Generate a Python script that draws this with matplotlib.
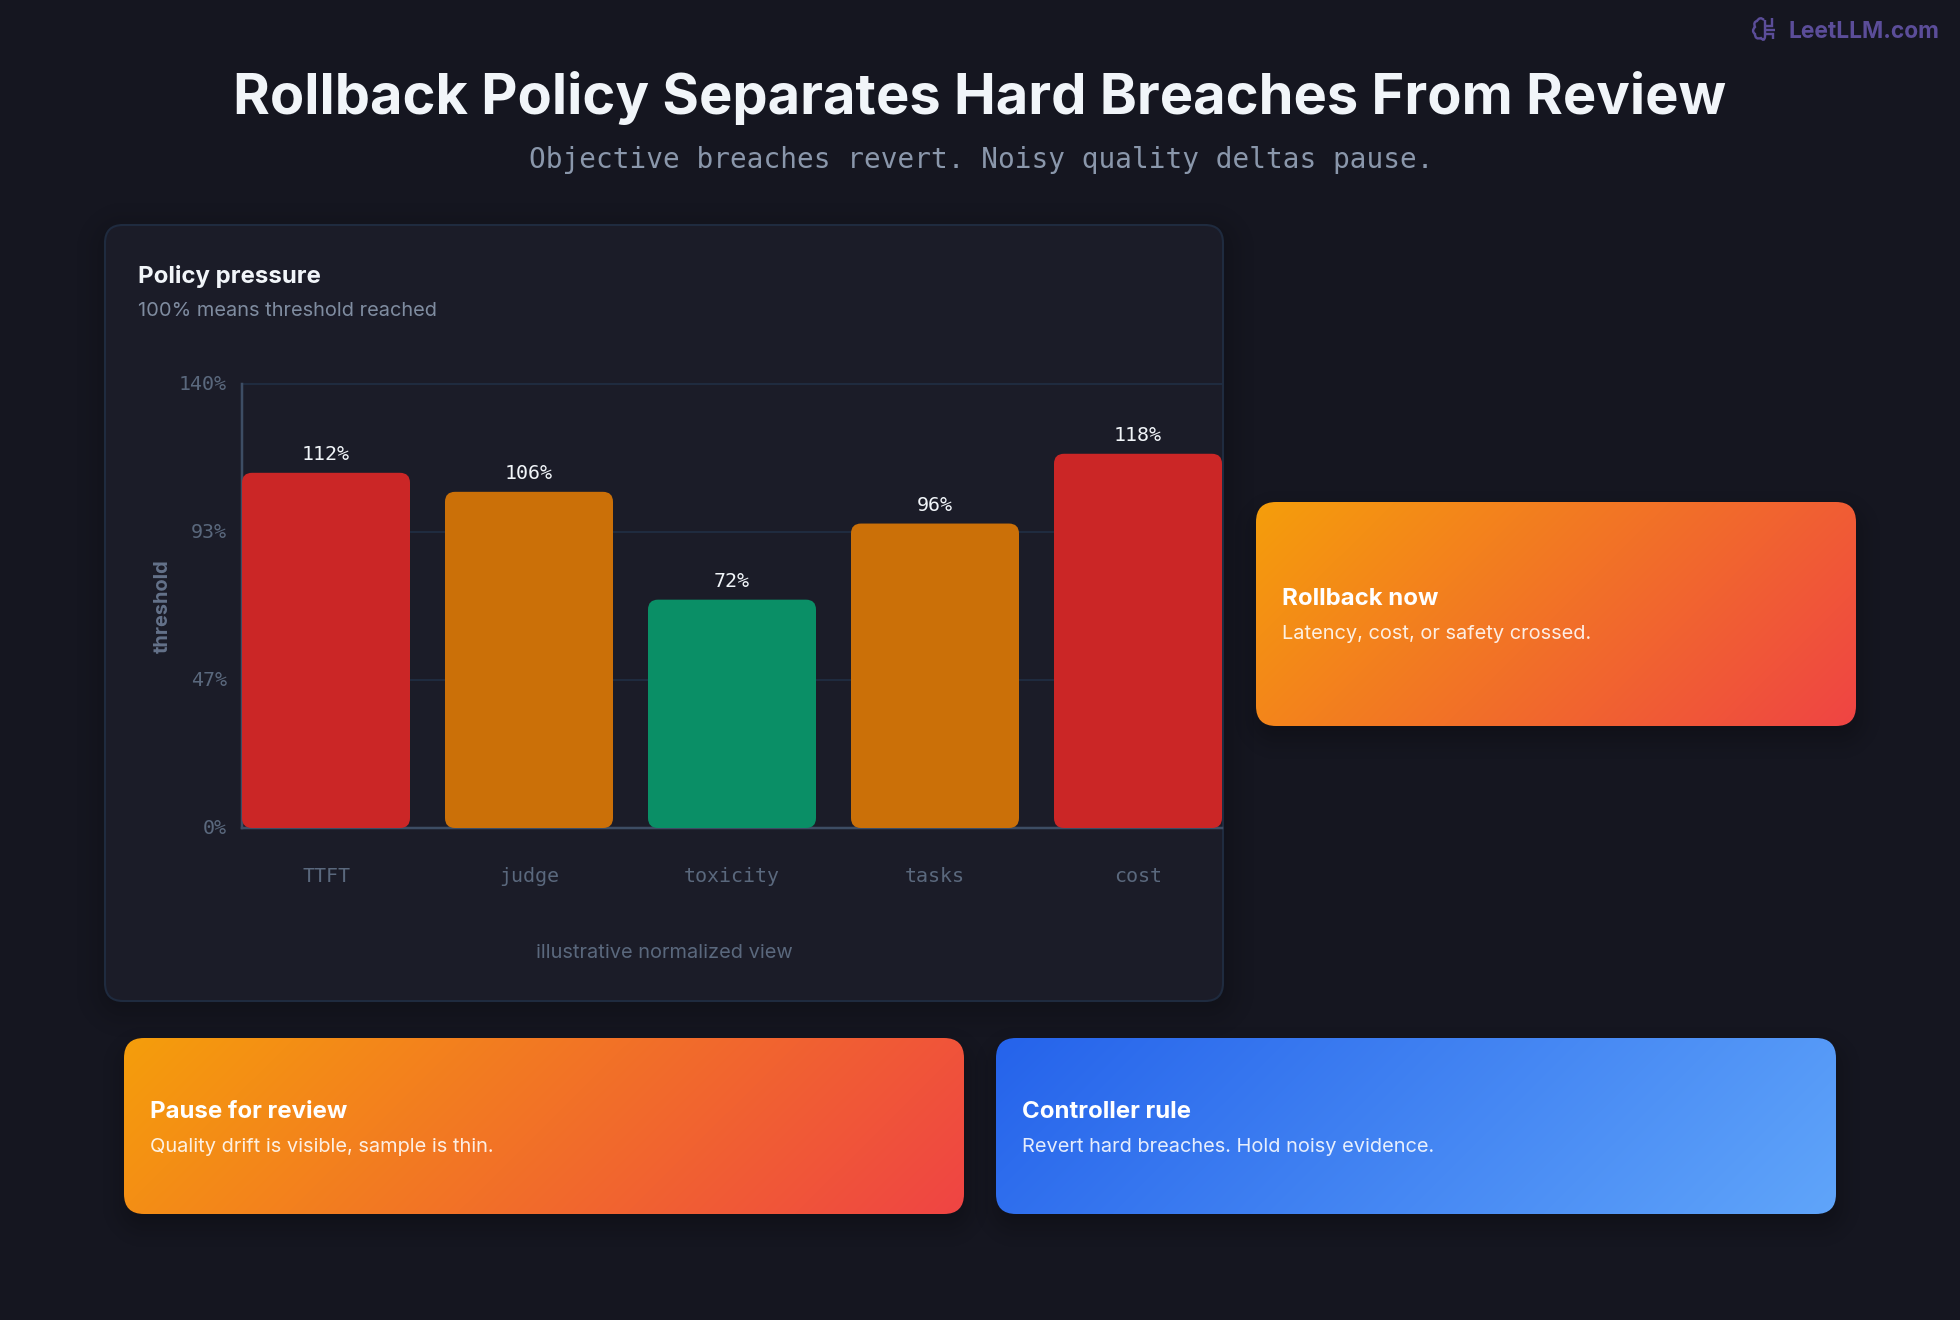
import numpy as np
import matplotlib
matplotlib.use('Agg')
import matplotlib.pyplot as plt
from matplotlib.patches import FancyBboxPatch, PathPatch
from matplotlib.path import Path
from matplotlib.transforms import ScaledTranslation

W, H = 1960, 1320
SANS = ['Inter', 'DejaVu Sans']
MONO = ['DejaVu Sans Mono']

# Chart data
categories = ['TTFT', 'judge', 'toxicity', 'tasks', 'cost']
pressure = [112, 106, 72, 96, 118]
bar_colors = ['#cb2626', '#cb7008', '#0a8f66', '#cb7008', '#cb2626']
y_ticks = [0, 140 / 3, 280 / 3, 140]
y_tick_labels = ['0%', '47%', '93%', '140%']
y_max = 140

BG = '#151620'
PANEL = '#1b1c28'
BORDER = '#1f2b3f'
AXIS = '#3d4d64'
GRID = '#1f2b3f'
MUTED = '#5a687d'


def px(v):
    # pixel size to points at dpi=100
    return v * 0.72


def rounded_sdf(xx, yy, box, r):
    x0, y0, x1, y1 = box
    cx, cy = (x0 + x1) / 2, (y0 + y1) / 2
    qx = np.abs(xx - cx) - (x1 - x0) / 2 + r
    qy = np.abs(yy - cy) - (y1 - y0) / 2 + r
    outside = np.hypot(np.maximum(qx, 0), np.maximum(qy, 0))
    return outside + np.minimum(np.maximum(qx, qy), 0) - r


def shadow(ax, box, r, blur, dy, strength):
    x0, y0, x1, y1 = box
    m = blur * 2
    ext = (x0 - m, x1 + m, y1 + dy + m, y0 + dy - m)
    xs = np.arange(ext[0], ext[1], 2.0)
    ys = np.arange(ext[3], ext[2], 2.0)
    xx, yy = np.meshgrid(xs, ys)
    d = rounded_sdf(xx, yy, (x0, y0 + dy, x1, y1 + dy), r)
    t = np.clip(0.5 - d / (2 * blur), 0, 1)
    t = t * t * (3 - 2 * t)
    img = np.zeros(xx.shape + (4,))
    img[..., 3] = t * strength
    ax.imshow(img, extent=ext, aspect='auto', zorder=1, interpolation='bilinear')


def gradient_card(ax, box, c0, c1, r=20):
    x0, y0, x1, y1 = box
    w, h = x1 - x0, y1 - y0
    shadow(ax, box, r, 26, 10, 0.28)
    # 135 degree linear gradient
    xx, yy = np.meshgrid(np.linspace(-w / 2, w / 2, int(w)), np.linspace(-h / 2, h / 2, int(h)))
    s = np.sqrt(0.5)
    t = np.clip((xx * s + yy * s) / ((w + h) * s) + 0.5, 0, 1)[..., None]
    rgb = (1 - t) * np.array(matplotlib.colors.to_rgb(c0)) + t * np.array(matplotlib.colors.to_rgb(c1))
    im = ax.imshow(rgb, extent=(x0, x1, y1, y0), aspect='auto', zorder=3)
    clip = FancyBboxPatch((x0, y0), w, h, boxstyle=f'round,pad=0,rounding_size={r}',
                          fc='none', ec='none', transform=ax.transData)
    ax.add_patch(clip)
    im.set_clip_path(clip)


def card_text(ax, x, y, title, desc):
    ax.text(x, y, title, color='white', fontsize=px(24), fontweight='bold', family=SANS,
            va='center', zorder=5)
    ax.text(x, y + 35, desc, color='white', alpha=0.88, fontsize=px(20), family=SANS,
            va='center', zorder=5)


fig = plt.figure(figsize=(W / 100, H / 100), dpi=100, facecolor=BG)

# Full-figure layer in pixel coordinates for the panel, cards and headings
bg = fig.add_axes([0, 0, 1, 1])
bg.set_axis_off()

panel_box = (105, 225, 1223, 1001)
shadow(bg, panel_box, 18, 34, 6, 0.30)
bg.add_patch(FancyBboxPatch((panel_box[0], panel_box[1]), panel_box[2] - panel_box[0],
                            panel_box[3] - panel_box[1], boxstyle='round,pad=0,rounding_size=18',
                            fc=PANEL, ec=BORDER, lw=1.5, zorder=2))

gradient_card(bg, (1256, 502, 1856, 726), '#f59e0b', '#ef4444')
gradient_card(bg, (124, 1038, 964, 1214), '#f59e0b', '#ef4444')
gradient_card(bg, (996, 1038, 1836, 1214), '#2563eb', '#60a5fa')

bg.set_xlim(0, W)
bg.set_ylim(H, 0)

bg.text(980, 98, 'Rollback Policy Separates Hard Breaches From Review', color='#f1f5f9',
        fontsize=px(56), fontweight='bold', family=SANS, ha='center', va='center', zorder=5)
bg.text(981, 160, 'Objective breaches revert. Noisy quality deltas pause.', color='#8a97ab',
        fontsize=px(27.8), family=MONO, ha='center', va='center', zorder=5)

bg.text(138, 276, 'Policy pressure', color='#f1f5f9', fontsize=px(24), fontweight='bold',
        family=SANS, va='center', zorder=5)
bg.text(138, 311, '100% means threshold reached', color='#7f8ca0', fontsize=px(20), family=SANS,
        va='center', zorder=5)
bg.text(163, 606, 'threshold', color='#64728a', fontsize=px(20), fontweight='bold', family=SANS,
        rotation=90, ha='center', va='center', zorder=5)
bg.text(664, 953, 'illustrative normalized view', color=MUTED, fontsize=px(20), family=SANS,
        ha='center', va='center', zorder=5)

card_text(bg, 1282, 599, 'Rollback now', 'Latency, cost, or safety crossed.')
card_text(bg, 150, 1112, 'Pause for review', 'Quality drift is visible, sample is thin.')
card_text(bg, 1022, 1112, 'Controller rule', 'Revert hard breaches. Hold noisy evidence.')

# Site mark, top right
LOGO = '#5b4d99'
bg.text(1939, 32, 'LeetLLM.com', color=LOGO, fontsize=px(22.8), fontweight='bold', family=SANS,
        ha='right', va='center', zorder=5)
M, L, Q = Path.MOVETO, Path.LINETO, Path.CURVE3
brain = Path([(1764, 20), (1760, 16), (1757, 21), (1753, 22), (1755, 27), (1751, 31), (1755, 34),
              (1755, 40), (1761, 38), (1764, 42), (1765, 37), (1765, 20),
              (1765, 26), (1772, 26), (1772, 18),
              (1765, 30), (1775, 30),
              (1766, 34), (1773, 34), (1773, 39)],
             [M, Q, Q, Q, Q, Q, Q, Q, Q, Q, L, L,
              M, L, L,
              M, L,
              M, L, L])
bg.add_patch(PathPatch(brain, fc='none', ec=LOGO, lw=px(2.4), zorder=5))

# Bar chart
ax = fig.add_axes([242 / W, 1 - 828 / H, 980 / W, 444 / H])
ax.patch.set_alpha(0)
ax.set_xlim(-0.4138, 4.4138)
ax.set_ylim(0, y_max)

ax.set_yticks(y_ticks)
ax.set_yticklabels(y_tick_labels, family=MONO, fontsize=px(20), color=MUTED)
ax.set_xticks(range(len(categories)))
ax.set_xticklabels(categories, family=MONO, fontsize=px(20), color=MUTED)
ax.tick_params(axis='both', length=0)
ax.tick_params(axis='y', pad=px(15))
ax.tick_params(axis='x', pad=px(39))
ax.grid(axis='y', color=GRID, lw=px(2), clip_on=False)
ax.set_axisbelow(True)
for side in ['top', 'right']:
    ax.spines[side].set_visible(False)
for side in ['left', 'bottom']:
    ax.spines[side].set_color(AXIS)
    ax.spines[side].set_linewidth(px(2.5))

# y tick labels sit slightly above their gridlines
lift = ScaledTranslation(0, 1.2 / 100, fig.dpi_scale_trans)
for lab in ax.get_yticklabels():
    lab.set_transform(lab.get_transform() + lift)

bar_w = 0.8276
x_unit = 980 / 4.8276
y_unit = 444 / y_max
for i, (val, col) in enumerate(zip(pressure, bar_colors)):
    # 10px corners on both axes
    ax.add_patch(FancyBboxPatch((i - bar_w / 2, 0), bar_w, val,
                                boxstyle=f'round,pad=0,rounding_size={10 / x_unit}',
                                mutation_aspect=x_unit / y_unit,
                                fc=col, ec='none', zorder=3, clip_on=False))
    ax.annotate(f'{val}%', (i, val), xytext=(0, px(18.5)), textcoords='offset points',
                ha='center', va='center', family=MONO, fontsize=px(20), color='#f1f5f9', zorder=4)

fig.savefig('out.png', dpi=100, facecolor=BG)
